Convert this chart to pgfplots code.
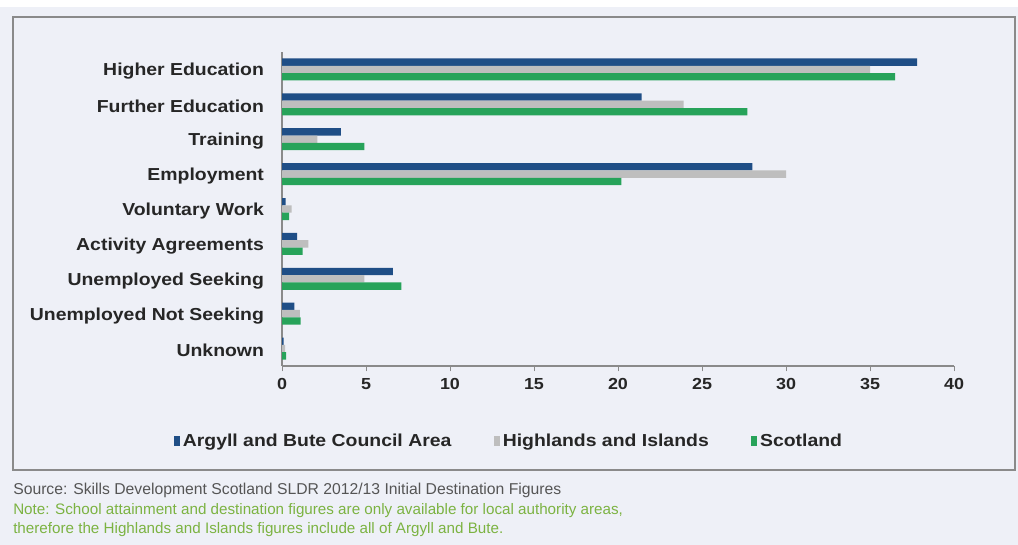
\documentclass[border=0pt]{standalone}
\usepackage{pgfplots}
\pgfplotsset{compat=1.18}
\usepackage{fontspec}
\setmainfont{Liberation Sans}
\newfontfamily\lab[FakeStretch=1.12]{Liberation Sans}
\definecolor{bg}{HTML}{EEF0F7}
\definecolor{cblue}{HTML}{1F4E86}
\definecolor{cgrey}{HTML}{BEBEBE}
\definecolor{cgreen}{HTML}{27A35A}
\definecolor{axgrey}{HTML}{8A8A8A}
\definecolor{srcgrey}{HTML}{555555}
\definecolor{notegreen}{HTML}{7CB342}
\begin{document}
\begin{tikzpicture}[x=0.75pt,y=0.75pt]
\fill[bg] (0,0) rectangle (1018,545);
\fill[white] (0,538) rectangle (1018,545);
\draw[axgrey,line width=1.1pt] (13,75) rectangle (1015,528);
\begin{axis}[
  at={(211.5pt,134.25pt)}, anchor=south west,
  scale only axis, width=504pt, height=235.5pt,
  xbar, bar width=5.5pt,
  xmin=0, xmax=40, xtick={0,5,...,40},
  ymin=-0.5, ymax=8.5, y dir=reverse,
  ytick={0,...,8},
  yticklabels={Higher Education,Further Education,Training,Employment,Voluntary Work,Activity Agreements,Unemployed Seeking,Unemployed Not Seeking,Unknown},
  minor ytick={-0.5,0.5,...,8.5},
  major tick length=4pt, minor tick length=4pt,
  xtick style={draw=axgrey},
  ytick style={draw=none},
  minor tick style={draw=axgrey},
  tick align=outside,
  axis x line*=bottom, axis y line*=left,
  axis line style={axgrey, line width=1.1pt, -},
  /pgf/number format/assume math mode=true,
  ticklabel style={font=\lab\bfseries\fontsize{13}{15}\selectfont, text=black!85},
  yticklabel style={xshift=-6pt, yshift=-1.5pt},
  xticklabel style={font=\lab\bfseries\fontsize{12}{14}\selectfont, yshift=-2pt},
  legend style={at={(0.3385,-0.238)}, anchor=center, draw=none, fill=none,
    font=\lab\bfseries\fontsize{13}{15}\selectfont, text=black!85,
    /tikz/every even column/.append style={column sep=30pt}},
  legend columns=3,
  legend image code/.code={\fill[#1,draw=none] (1pt,-4pt) rectangle (5.5pt,3.5pt);},
]
\addplot[fill=cblue, draw=none, bar shift=5.5pt] coordinates {(37.8,0) (21.4,1) (3.5,2) (28.0,3) (0.22,4) (0.9,5) (6.6,6) (0.73,7) (0.1,8)};
\addplot[fill=cgrey, draw=none, bar shift=0pt] coordinates {(35.0,0) (23.9,1) (2.1,2) (30.0,3) (0.57,4) (1.57,5) (4.9,6) (1.07,7) (0.18,8)};
\addplot[fill=cgreen, draw=none, bar shift=-5.5pt] coordinates {(36.5,0) (27.7,1) (4.9,2) (20.2,3) (0.42,4) (1.23,5) (7.1,6) (1.11,7) (0.24,8)};
\legend{Argyll and Bute Council Area,Highlands and Islands,Scotland}
\end{axis}
\node[anchor=west, text=srcgrey, font=\fontsize{11.8}{13}\selectfont, inner sep=0pt] at (13,55) {Source: Skills Development Scotland SLDR 2012/13 Initial Destination Figures};
\node[anchor=west, text=notegreen, font=\fontsize{11.4}{13}\selectfont, inner sep=0pt] at (13,34) {Note: School attainment and destination figures are only available for local authority areas,};
\node[anchor=west, text=notegreen, font=\fontsize{11.4}{13}\selectfont, inner sep=0pt] at (13,15) {therefore the Highlands and Islands figures include all of Argyll and Bute.};
\end{tikzpicture}
\end{document}
